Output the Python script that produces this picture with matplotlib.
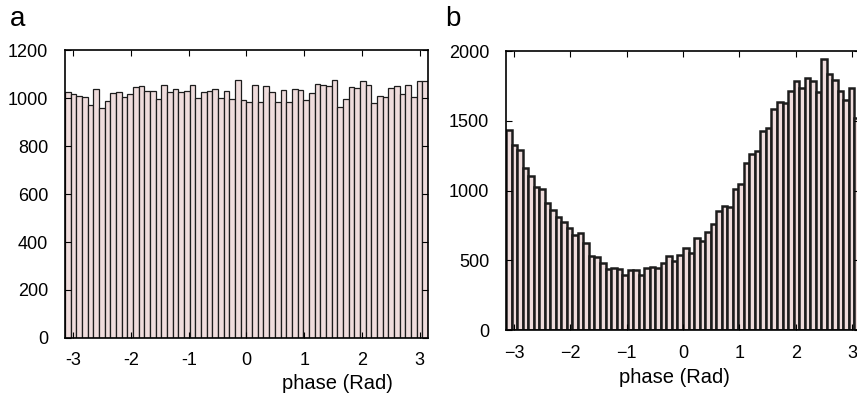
import numpy as np
import matplotlib
matplotlib.use('Agg')
import matplotlib.pyplot as plt

plt.rcParams['font.family'] = ['Liberation Sans', 'DejaVu Sans']

# Histogram a: 64 bins from -pi to pi (counts)
counts_a = [1026, 1015, 1008, 1006, 969, 1039, 960, 988, 1022, 1024,
            1006, 1017, 1044, 1049, 1028, 1031, 997, 1056, 1026, 1038,
            1024, 1029, 1056, 1001, 1024, 1028, 1039, 1001, 1031, 996,
            1074, 993, 985, 1056, 982, 1051, 1025, 982, 1032, 983,
            1036, 1033, 993, 1022, 1060, 1056, 1049, 1074, 961, 997,
            1046, 1043, 1072, 1056, 978, 1010, 1003, 1042, 1051, 1018,
            1054, 1006, 1072, 1072]

# Histogram b: 64 bins from -pi to pi (counts)
counts_b = [1434, 1324, 1290, 1164, 1102, 1027, 1008, 908, 858, 810,
            774, 734, 683, 698, 624, 533, 521, 483, 435, 447,
            440, 394, 428, 430, 397, 447, 449, 447, 483, 528,
            492, 540, 588, 554, 657, 638, 703, 758, 855, 891,
            882, 1013, 1044, 1195, 1259, 1285, 1429, 1448, 1587, 1632,
            1625, 1711, 1787, 1737, 1806, 1785, 1704, 1943, 1835, 1795,
            1716, 1651, 1732, 1520]

xticks = [-3, -2, -1, 0, 1, 2, 3]
labels_a = ['-3', '-2', '-1', '0', '1', '2', '3']
labels_b = ['\u22123', '\u22122', '\u22121', '0', '1', '2', '3']
yticks_a = [0, 200, 400, 600, 800, 1000, 1200]
yticks_b = [0, 500, 1000, 1500, 2000]

edges = np.linspace(-np.pi, np.pi, len(counts_a) + 1)
centers = (edges[:-1] + edges[1:]) / 2
width = edges[1] - edges[0]

fill = '#efdcdc'
edge = '#1c1c1c'

fig = plt.figure(figsize=(8.57, 4.03), dpi=100)
ax1 = fig.add_axes([0.0758, 0.1613, 0.4236, 0.7146])
ax2 = fig.add_axes([0.5904, 0.1811, 0.4131, 0.6923])

ax1.bar(centers, counts_a, width=width, color=fill, edgecolor=edge, linewidth=0.9)
ax2.bar(centers, counts_b, width=width, color=fill, edgecolor=edge, linewidth=1.8)

for ax, lab, yt, ymax, pad in [(ax1, labels_a, yticks_a, 1200, 10), (ax2, labels_b, yticks_b, 2000, 11)]:
    ax.set_xlim(-np.pi, np.pi)
    ax.set_ylim(0, ymax)
    ax.set_xticks(xticks)
    ax.set_xticklabels(lab)
    ax.set_yticks(yt)
    ax.tick_params(direction='in', length=4, width=0.8, top=True, right=True,
                   labelsize=13, pad=pad, colors='black')
    ax.tick_params(axis='y', pad=12)
    for s in ax.spines.values():
        s.set_linewidth(1.2)
    ax.set_xlabel('phase (Rad)', fontsize=14.5)

ax1.xaxis.set_label_coords(0.75, -0.125)
ax2.xaxis.set_label_coords(0.475, -0.135)

fig.text(0.012, 0.935, 'a', fontsize=20)
fig.text(0.519, 0.935, 'b', fontsize=20)

fig.savefig('out.png', dpi=100)
